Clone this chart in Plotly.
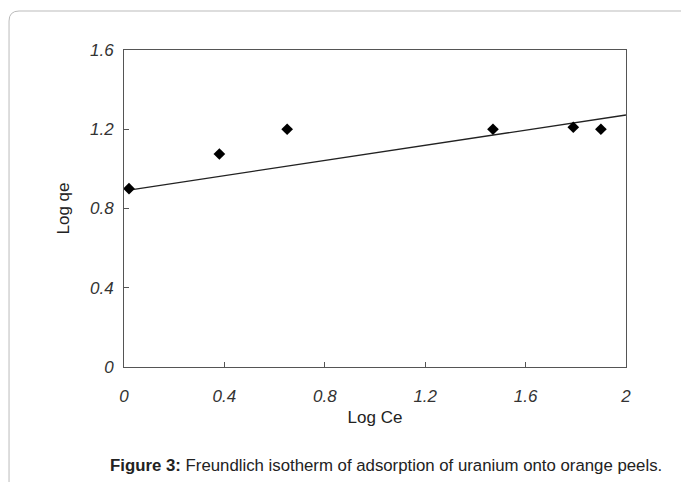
import plotly.graph_objects as go

# Data
log_ce = [0.02, 0.38, 0.65, 1.47, 1.79, 1.90]
log_qe = [0.90, 1.075, 1.20, 1.20, 1.21, 1.20]
fit_x = [0.02, 2.0]
fit_y = [0.893, 1.272]
x_ticks = [0, 0.4, 0.8, 1.2, 1.6, 2]
y_ticks = [0, 0.4, 0.8, 1.2, 1.6]

FONT = "Liberation Sans, Arial, sans-serif"

fig = go.Figure()
fig.add_trace(go.Scatter(x=fit_x, y=fit_y, mode="lines",
                         line=dict(color="#222222", width=1.3), showlegend=False))
fig.add_trace(go.Scatter(x=log_ce, y=log_qe, mode="markers",
                         marker=dict(symbol="diamond", size=9, color="#000000"),
                         showlegend=False))

axis_common = dict(showgrid=False, zeroline=False, showline=True, linecolor="#555555",
                   linewidth=1, mirror=True, ticks="inside", ticklen=5, tickcolor="#555555",
                   tickfont=dict(family=FONT, size=17, style="italic", color="#333333"))

fig.update_xaxes(range=[0, 2], tickvals=x_ticks, ticktext=[str(v) for v in x_ticks],
                 ticklabelstandoff=14,
                 title=dict(text="Log Ce", font=dict(family=FONT, size=17, color="#222222"), standoff=5),
                 **axis_common)
fig.update_yaxes(range=[0, 1.6], tickvals=y_ticks, ticktext=[str(v) for v in y_ticks],
                 ticklabelstandoff=6,
                 title=dict(text="Log qe", font=dict(family=FONT, size=17, color="#222222"), standoff=16),
                 **axis_common)

# outer rounded frame (in paper coords)
L, T, R, B = -0.229, 1.123, 1.2, -0.45
rx, ry = 0.02, 0.0315
fig.add_shape(type="path", xref="paper", yref="paper",
              path=f"M {L},{B} L {L},{T-ry} Q {L},{T} {L+rx},{T} L {R},{T}",
              line=dict(color="#bbbbbb", width=1))

fig.add_annotation(xref="paper", yref="paper", x=0.522, y=-0.312, showarrow=False,
                   text="<b>Figure 3:</b> Freundlich isotherm of adsorption of uranium onto orange peels.",
                   font=dict(family=FONT, size=16.8, color="#222222"), xanchor="center", yanchor="middle")

fig.update_layout(width=681, height=482, margin=dict(l=124, r=55, t=50, b=115),
                  paper_bgcolor="white", plot_bgcolor="white")

fig.write_html("out.html")
